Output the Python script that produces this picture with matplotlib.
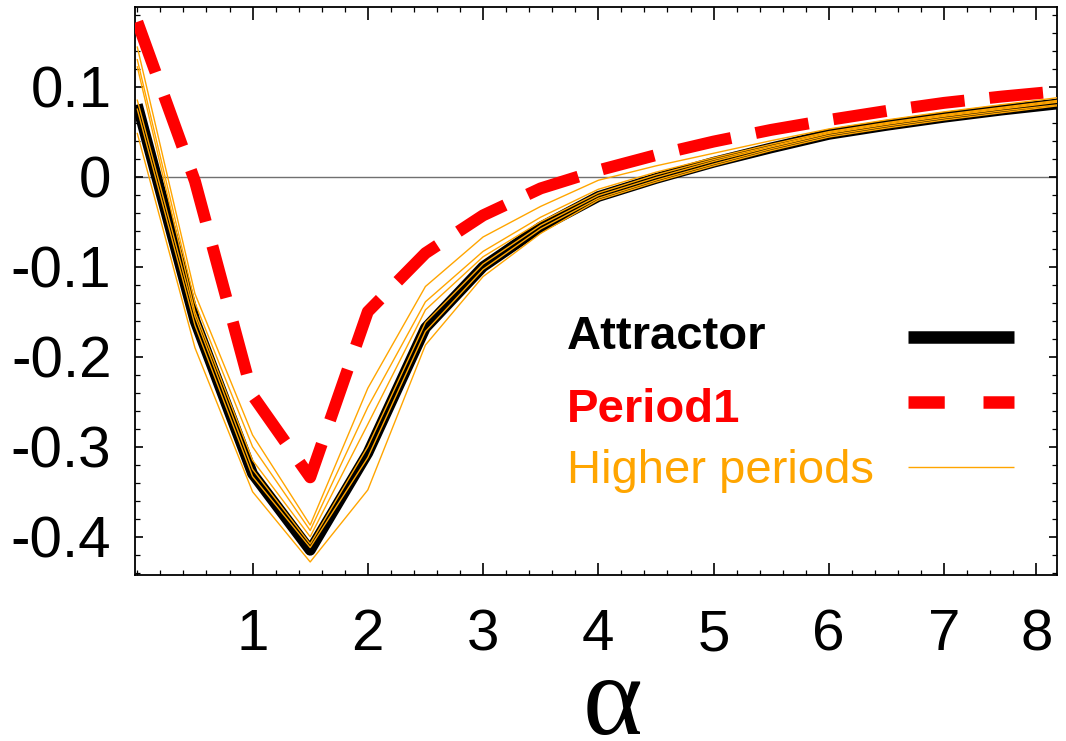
import numpy as np
import matplotlib.pyplot as plt
from matplotlib.ticker import FixedLocator, MultipleLocator

plt.rcParams['font.family'] = ['Liberation Sans', 'DejaVu Sans']
plt.rcParams['axes.unicode_minus'] = False
plt.rcParams['mathtext.fontset'] = 'custom'
plt.rcParams['mathtext.rm'] = 'Liberation Serif'

# exponent vs alpha
alpha = [0, 0.5, 1, 1.5, 2, 2.5, 3, 3.5, 4, 4.5, 5, 5.5, 6, 6.5, 7, 7.5, 8]
attractor = [0.080, -0.160, -0.330, -0.415, -0.307, -0.168, -0.100, -0.056, -0.022,
             -0.002, 0.016, 0.032, 0.047, 0.057, 0.066, 0.074, 0.081]
period1 = [0.172, -0.005, -0.243, -0.334, -0.150, -0.085, -0.043, -0.013, 0.007,
           0.024, 0.039, 0.052, 0.063, 0.073, 0.082, 0.089, 0.095]
higher = [
    [0.144, -0.130, -0.287, -0.387, -0.235, -0.122, -0.067, -0.033, -0.004,
     0.012, 0.026, 0.040, 0.053, 0.063, 0.072, 0.080, 0.088],
    [0.130, -0.140, -0.300, -0.393, -0.256, -0.139, -0.083, -0.045, -0.014,
     0.005, 0.021, 0.036, 0.050, 0.060, 0.069, 0.077, 0.085],
    [0.122, -0.150, -0.315, -0.400, -0.275, -0.148, -0.089, -0.050, -0.018,
     0.002, 0.019, 0.034, 0.049, 0.059, 0.068, 0.076, 0.084],
    [0.085, -0.155, -0.325, -0.408, -0.300, -0.162, -0.097, -0.054, -0.021,
     -0.001, 0.017, 0.033, 0.048, 0.058, 0.067, 0.075, 0.083],
    [0.075, -0.165, -0.333, -0.412, -0.312, -0.172, -0.103, -0.058, -0.024,
     -0.004, 0.014, 0.031, 0.046, 0.056, 0.065, 0.073, 0.080],
    [0.048, -0.190, -0.350, -0.428, -0.348, -0.187, -0.111, -0.063, -0.026,
     -0.006, 0.012, 0.029, 0.044, 0.054, 0.063, 0.071, 0.079],
]

xtick_pos = [1, 2, 3, 4, 5, 6, 7, 7.8]
xtick_lab = ['1', '2', '3', '4', '5', '6', '7', '8']
ytick_pos = [-0.4, -0.3, -0.2, -0.1, 0, 0.1]
ytick_lab = ['-0.4', '-0.3', '-0.2', '-0.1', '0', '0.1']

fig = plt.figure(figsize=(10.66, 7.41), dpi=100)
ax = fig.add_axes([135 / 1066, 166 / 741, 922 / 1066, 568 / 741])

ax.axhline(0, color='#707070', lw=1.0, zorder=1)

ax.plot(alpha, attractor, color='black', lw=7.8, solid_joinstyle='round',
        solid_capstyle='butt', zorder=2)
for ys in higher:
    ax.plot(alpha, ys, color='orange', lw=1.0, zorder=3)
l_p1, = ax.plot(alpha, period1, color='red', lw=8.6, zorder=4,
                dash_capstyle='butt', dash_joinstyle='round')
l_p1.set_dashes((4.5, 2.1))

ax.set_xlim(-0.02, 7.98)
ax.set_ylim(-0.4425, 0.1885)

ax.xaxis.set_major_locator(FixedLocator(xtick_pos))
ax.set_xticklabels(xtick_lab)
ax.xaxis.set_minor_locator(MultipleLocator(0.2))
ax.yaxis.set_major_locator(FixedLocator(ytick_pos))
ax.set_yticklabels(ytick_lab)
ax.yaxis.set_minor_locator(MultipleLocator(0.02))

ax.tick_params(which='both', direction='in', top=True, right=True, width=1.2)
ax.tick_params(axis='x', which='major', length=9, pad=24, labelsize=42)
ax.tick_params(axis='y', which='major', length=6, pad=17, labelsize=42)
ax.tick_params(which='minor', length=3.5, width=0.9)
for sp in ax.spines.values():
    sp.set_linewidth(1.3)

# axis title, placed on the figure by its baseline
fig.text(612 / 1066, 7 / 741, r'$\mathrm{\alpha}$', fontsize=82,
         ha='center', va='baseline')

# key: label on the left, line sample on the right
key = [
    ('Attractor', 'black', 'bold', 0.398, 0.419, dict(color='black', lw=9)),
    ('Period1', 'red', 'bold', 0.269, 0.3046, dict(color='red', lw=9)),
    ('Higher periods', 'orange', 'normal', 0.162, 0.190, dict(color='orange', lw=1.0)),
]
for text, col, weight, ty, ly, style in key:
    ax.text(0.4686, ty, text, color=col, fontweight=weight, fontsize=34,
            va='baseline', ha='left', transform=ax.transAxes)
    ln, = ax.plot([0.838, 0.953], [ly, ly], transform=ax.transAxes,
                  solid_capstyle='butt', dash_capstyle='butt', **style)
    if text == 'Period1':
        ln.set_dashes((2.9, 3.1))

fig.savefig('out.png', dpi=100)
